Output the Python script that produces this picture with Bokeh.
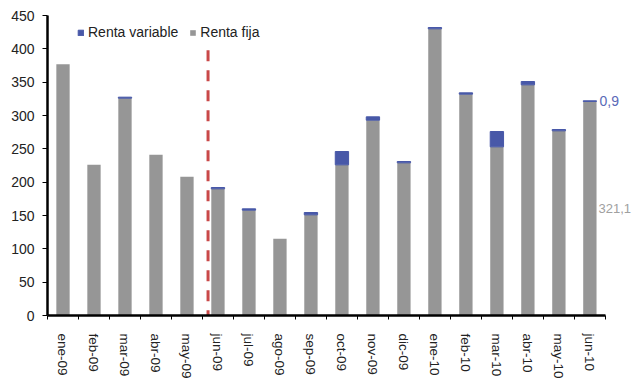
from bokeh.plotting import figure
from bokeh.models import Range1d, FixedTicker, SingleIntervalTicker, Legend, LegendItem
from bokeh.core.properties import value
from bokeh.embed import file_html
from bokeh.resources import INLINE

categories = ["ene-09", "feb-09", "mar-09", "abr-09", "may-09", "jun-09", "jul-09", "ago-09", "sep-09",
              "oct-09", "nov-09", "dic-09", "ene-10", "feb-10", "mar-10", "abr-10", "may-10", "jun-10"]
renta_fija = [377, 226, 326, 241, 208, 190, 158, 115, 151, 226, 293, 229, 430, 332, 253, 346, 277, 321.1]
renta_variable = [0, 0, 1.5, 0, 0, 2, 2, 0, 3.5, 20, 5, 2, 2, 2, 23, 5, 2, 0.9]
divider_pos = 5.18   # position of the dashed marker, in category units
divider_top = 398
y_ticks_interval = 50

FONT = "Liberation Sans"
GREY = "#969696"
BLUE = "#4858A8"

n = len(categories)
xs = [i + 0.5 for i in range(n)]
totals = [f + v for f, v in zip(renta_fija, renta_variable)]
bar_w = 0.43

# only months with a non-zero variable part get a blue segment
var_idx = [i for i in range(n) if renta_variable[i] > 0]
var_x = [xs[i] for i in var_idx]
var_bottom = [renta_fija[i] for i in var_idx]
var_top = [totals[i] for i in var_idx]

p = figure(width=634, height=381, output_backend="svg", toolbar_location=None,
           x_range=Range1d(0, 18.94), y_range=Range1d(0, 450),
           min_border_left=47, min_border_right=0, min_border_top=15, min_border_bottom=65)
p.outline_line_color = None
p.grid.visible = False
p.background_fill_color = "white"

r_fija = p.vbar(x=xs, top=renta_fija, width=bar_w, fill_color=GREY, line_color=None)
r_var = p.vbar(x=var_x, bottom=var_bottom, top=var_top, width=bar_w, fill_color=BLUE,
               line_color=BLUE, line_width=1)

p.line(x=[divider_pos, divider_pos], y=[divider_top, 0], line_color="#C94848",
       line_width=3, line_dash="11 9")

# data labels for the last bar
p.text(x=[xs[-1] + bar_w / 2], y=[totals[-1]],
       text=[f"{renta_variable[-1]:.1f}".replace(".", ",")], x_offset=3,
       text_baseline="middle", text_align="left", text_font=value(FONT),
       text_font_size="14px", text_color="#5A6AB8")
p.text(x=[xs[-1] + bar_w / 2], y=[renta_fija[-1] / 2],
       text=[f"{renta_fija[-1]:.1f}".replace(".", ",")], x_offset=2,
       text_baseline="middle", text_align="left", text_font=value(FONT),
       text_font_size="13px", text_color="#A0A0A0")

# x axis
xa = p.xaxis[0]
xa.ticker = FixedTicker(ticks=xs, minor_ticks=list(range(n + 1)))
xa.major_label_overrides = {x: c for x, c in zip(xs, categories)}
xa.bounds = (0, n)
xa.major_tick_out = 0
xa.major_tick_in = 0
xa.minor_tick_out = 4
xa.minor_tick_in = 0
xa.minor_tick_line_color = "black"
xa.axis_line_width = 2.5
xa.axis_line_color = "black"
xa.major_label_orientation = "vertical"
xa.major_label_standoff = 14
xa.major_label_text_font = FONT
xa.major_label_text_font_size = "13.5px"
xa.major_label_text_color = "#222222"

# y axis
ya = p.yaxis[0]
ya.ticker = SingleIntervalTicker(interval=y_ticks_interval, num_minor_ticks=0)
ya.axis_line_width = 2.5
ya.axis_line_color = "black"
ya.major_tick_out = 5
ya.major_tick_in = 0
ya.minor_tick_out = 0
ya.minor_tick_in = 0
ya.major_tick_line_color = "black"
ya.major_label_standoff = 8
ya.major_label_text_font = FONT
ya.major_label_text_font_size = "14px"
ya.major_label_text_color = "#222222"

legend = Legend(items=[LegendItem(label="Renta variable", renderers=[r_var]),
                       LegendItem(label="Renta fija", renderers=[r_fija])],
                orientation="horizontal", location=(30, 275), margin=0, padding=0,
                spacing=11, glyph_width=7, glyph_height=7, label_height=7, label_standoff=4,
                label_text_font=FONT, label_text_font_size="14px", label_text_color="#222222",
                border_line_color=None, background_fill_alpha=0)
p.add_layout(legend)

open("out.html", "w").write(file_html(p, INLINE))
